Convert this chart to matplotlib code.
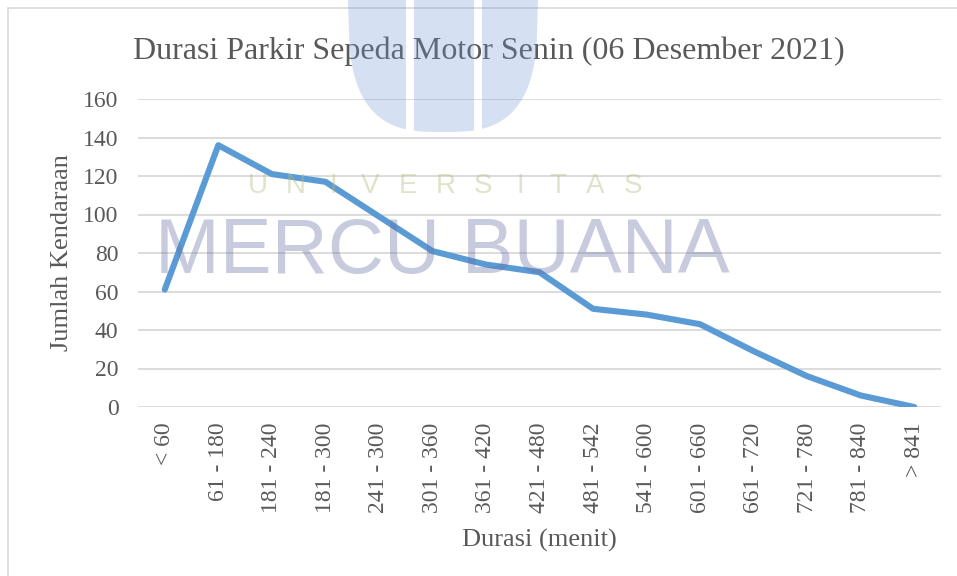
import numpy as np
import matplotlib
matplotlib.use("Agg")
import matplotlib.pyplot as plt
from matplotlib.patches import Rectangle, Polygon

# data
categories = ["< 60", "61 - 180", "181 - 240", "181 - 300", "241 - 300", "301 - 360",
              "361 - 420", "421 - 480", "481 - 542", "541 - 600", "601 - 660",
              "661 - 720", "721 - 780", "781 - 840", "> 841"]
jumlah = [61, 136, 121, 117, 99, 81, 74, 70, 51, 48, 43, 29, 16, 6, 0]
y_ticks = [0, 20, 40, 60, 80, 100, 120, 140, 160]

title = "Durasi Parkir Sepeda Motor Senin (06 Desember 2021)"
x_title = "Durasi (menit)"
y_title = "Jumlah Kendaraan"

W, H = 957, 576
TEXT = "#595959"
GRID = "#d9d9d9"
LINE = "#5b9bd5"
SERIF = ["Liberation Serif", "DejaVu Serif"]


def fx(x):
    return x / W


def fy(y):
    return 1 - y / H


fig = plt.figure(figsize=(W / 100, H / 100), dpi=100)
fig.patch.set_facecolor("white")

# chart area border (only left/top visible in the crop)
fig.patches.append(Rectangle((fx(8), fy(700)), 2.0, fy(8) - fy(700),
                             transform=fig.transFigure, fill=False,
                             edgecolor=GRID, linewidth=1.2, zorder=0))

ax = fig.add_axes([fx(138), fy(407), fx(941) - fx(138), fy(99) - fy(407)])
ax.set_facecolor("none")

x = np.arange(len(categories))
ax.plot(x, jumlah, color=LINE, linewidth=4.4, solid_joinstyle="round",
        solid_capstyle="round", zorder=3)

ax.set_xlim(-0.5, len(categories) - 0.5)
ax.set_ylim(0, 160)
ax.set_yticks(y_ticks)
ax.set_yticklabels([str(v) for v in y_ticks])
ax.set_xticks(x)
ax.set_xticklabels(categories, rotation=90)
ax.yaxis.grid(True, color=GRID, linewidth=1.3)
ax.set_axisbelow(True)
for s in ax.spines.values():
    s.set_visible(False)
ax.tick_params(axis="both", length=0, colors=TEXT, labelsize=17)
ax.tick_params(axis="y", pad=14)
ax.tick_params(axis="x", pad=11)
for lab in ax.get_xticklabels() + ax.get_yticklabels():
    lab.set_family(SERIF)

fig.text(fx(489), fy(59), title, ha="center", va="baseline", fontsize=23,
         color=TEXT, family=SERIF)
fig.text(fx(539), fy(547), x_title, ha="center", va="baseline", fontsize=19,
         color=TEXT, family=SERIF)
fig.text(fx(62), fy(253), y_title, ha="center", va="center", rotation=90,
         fontsize=19, color=TEXT, family=SERIF)

# faint university watermark laid over the chart
logo_col = (0.42, 0.58, 0.83)
for a, b in [(348, 406), (414, 474), (482, 538)]:
    xs = np.linspace(a, b, 40)
    dx = np.clip(np.abs(xs - 443) / 95, 0, 1)
    ys = 132 * (1 - dx ** 3) ** (1 / 3)
    pts = [(fx(u), fy(v)) for u, v in zip(xs, ys)]
    pts += [(fx(b), fy(-5)), (fx(a), fy(-5))]
    fig.patches.append(Polygon(pts, closed=True, transform=fig.transFigure,
                               facecolor=logo_col, edgecolor="none",
                               alpha=0.28, zorder=5))

for i, ch in enumerate("UNIVERSITAS"):
    fig.text(fx(258 + i * 37.5), fy(193), ch, ha="center", va="baseline",
             fontsize=20, color=(0.70, 0.74, 0.50), alpha=0.42,
             family="Liberation Sans", zorder=6)

fig.text(fx(155), fy(273), "MERCU BUANA", ha="left", va="baseline",
         fontsize=56, color=(0.40, 0.44, 0.64), alpha=0.36,
         family="Liberation Sans", zorder=6)

fig.savefig("out.png", dpi=100)
